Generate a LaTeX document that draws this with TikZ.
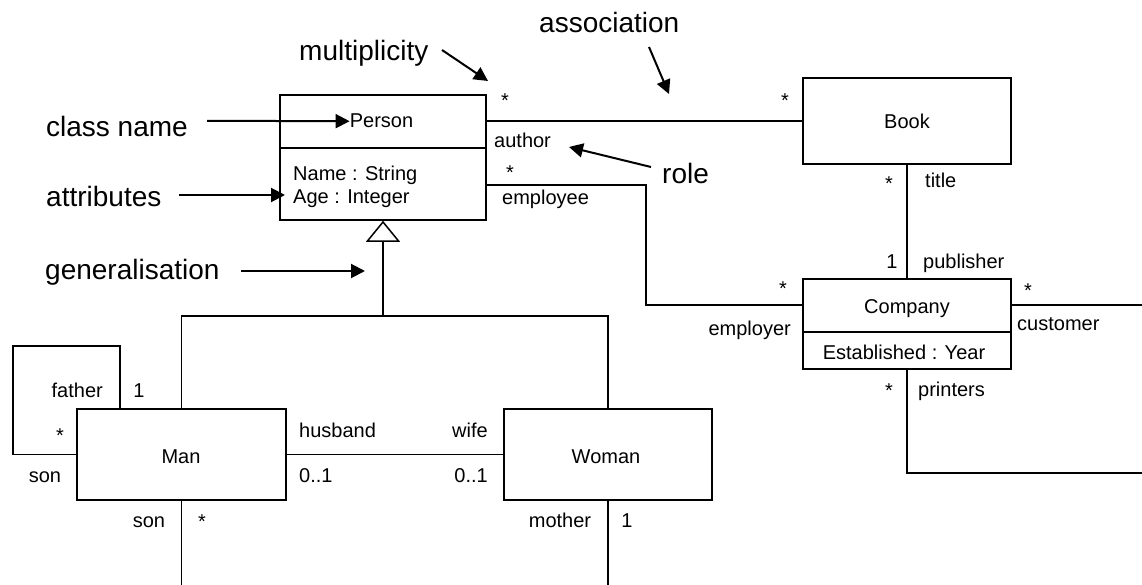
\documentclass[tikz,border=0pt]{standalone}
\usepackage{fontspec}
\setmainfont{Liberation Sans}
\usetikzlibrary{arrows.meta}
\begin{document}
\begin{tikzpicture}[x=1pt,y=-1pt,
  box/.style={draw, line width=1.6pt, rectangle, inner sep=0pt},
  conn/.style={line width=1.5pt},
  ann/.style={line width=2pt, -{Triangle[length=14pt,width=14pt]}},
  lbl/.style={inner sep=0pt, font=\fontsize{20}{23}\selectfont},
  big/.style={inner sep=0pt, font=\fontsize{28}{32}\selectfont},
  gen/.style={conn, -{Triangle[open,length=21pt,width=34pt,line width=1.5pt]}}
]
\useasboundingbox (0,0) rectangle (1142,585);

% ---------- classes ----------
\node[box, minimum width=206pt, minimum height=125pt] (Person) at (383,157.5) {};
\node[box, minimum width=208pt, minimum height=86pt]  (Book)   at (907,121) {};
\node[box, minimum width=208pt, minimum height=90pt]  (Company) at (907,324) {};
\node[box, minimum width=209pt, minimum height=91pt]  (Man)    at (181.5,454.5) {};
\node[box, minimum width=208pt, minimum height=91pt]  (Woman)  at (608,454.5) {};

% compartment dividers
\coordinate (pdiv) at (383,148);
\draw[line width=1.6pt] (pdiv -| Person.west) -- (pdiv -| Person.east);
\coordinate (cdiv) at (907,332);
\draw[line width=1.6pt] (cdiv -| Company.west) -- (cdiv -| Company.east);

% class texts
\node[lbl, anchor=base] (pname) at (381.5,128) {Person};
\node[lbl, anchor=base west] (pattr1) at (293,181) {Name : String};
\node[lbl, anchor=base west] (pattr2) at (293,204) {Age : Integer};
\node[lbl, anchor=base] (bname) at (907,129) {Book};
\node[lbl, anchor=base] (cname) at (907,313) {Company};
\node[lbl, anchor=base] (cattr) at (904,359) {Established : Year};
\node[lbl, anchor=base] (mname) at (181,463) {Man};
\node[lbl, anchor=base] (wname) at (606,463) {Woman};

% ---------- associations ----------
\draw[conn] (Book.west) -- (Book.west -| Person.east);

\coordinate (empBend) at (646,185);
\coordinate (cn) at (907,305);
\draw[conn] (empBend -| Person.east) -- (empBend) |- (cn -| Company.west);

\draw[conn] (Book.south) -- (Company.north);

\coordinate (custEnd) at (1142,305);
\draw[conn] (cn -| Company.east) -- (custEnd);

\coordinate (prBend) at (907,473);
\coordinate (prEnd) at (1142,473);
\draw[conn] (Company.south) -- (prBend) -- (prEnd);

\draw[conn] (Man.east) -- (Woman.west);

\coordinate (loopTL) at (13,346);
\coordinate (loopTR) at (120,346);
\draw[conn] (Man.west) -| (loopTL) -- (loopTR) -- (loopTR |- Man.north);

\coordinate (manEnd) at (181.5,585);
\coordinate (womanEnd) at (608,585);
\draw[conn] (Man.south) -- (manEnd);
\draw[conn] (Woman.south) -- (womanEnd);

% generalisation
\coordinate (gj) at (383,316);
\draw[conn] (Man.north) |- (gj) -| (Woman.north);
\draw[gen] (gj) -- (Person.south);

% ---------- role names and multiplicities ----------
\node[lbl, anchor=base] (m1) at (505,108) {*};
\node[lbl, anchor=base] (m2) at (785,108) {*};
\node[lbl, anchor=base west] (rAuthor) at (494,148) {author};
\node[lbl, anchor=base] (m3) at (510,180) {*};
\node[lbl, anchor=base west] (rEmployee) at (502,205) {employee};
\node[lbl, anchor=base] (m4) at (889,191) {*};
\node[lbl, anchor=base west] (rTitle) at (925,188) {title};
\node[lbl, anchor=base] (m5) at (892,268) {1};
\node[lbl, anchor=base west] (rPublisher) at (923,268) {publisher};
\node[lbl, anchor=base] (m6) at (783,295) {*};
\node[lbl, anchor=base east] (rEmployer) at (791,335) {employer};
\node[lbl, anchor=base] (m7) at (1028,297) {*};
\node[lbl, anchor=base west] (rCustomer) at (1017,330) {customer};
\node[lbl, anchor=base] (m8) at (889,397) {*};
\node[lbl, anchor=base west] (rPrinters) at (918,396) {printers};

\node[lbl, anchor=base west] (rHusband) at (299,437) {husband};
\node[lbl, anchor=base east] (rWife) at (488,437) {wife};
\node[lbl, anchor=base west] (m9) at (299,482) {0..1};
\node[lbl, anchor=base east] (m10) at (488,482) {0..1};

\node[lbl, anchor=base east] (rFather) at (103,397) {father};
\node[lbl, anchor=base] (m11) at (139,397) {1};
\node[lbl, anchor=base] (m12) at (60,442) {*};
\node[lbl, anchor=base] (rSon1) at (45,482) {son};
\node[lbl, anchor=base] (rSon2) at (149,527) {son};
\node[lbl, anchor=base] (m13) at (202,528) {*};
\node[lbl, anchor=base] (rMother) at (560,527) {mother};
\node[lbl, anchor=base] (m14) at (627,527) {1};

% ---------- annotations ----------
\node[big, anchor=base west] (tMult) at (299,61) {multiplicity};
\node[big, anchor=base west] (tAssoc) at (539,33) {association};
\node[big, anchor=base west] (tClass) at (46,137) {class name};
\node[big, anchor=base west] (tAttr) at (46,207) {attributes};
\node[big, anchor=base west] (tGen) at (45,279) {generalisation};
\node[big, anchor=base west] (tRole) at (662,184) {role};

\coordinate (multA) at (442,50);
\coordinate (multB) at (488,81);
\draw[ann] (multA) -- (multB);
\coordinate (assocA) at (649,47);
\coordinate (assocB) at (669,94);
\draw[ann] (assocA) -- (assocB);
\coordinate (classA) at (207,120.8);
\draw[ann] (classA) -- (pname.west);
\coordinate (attA) at (179,195);
\coordinate (attB) at (285,195);
\draw[ann] (attA) -- (attB);
\coordinate (genA) at (241,271);
\coordinate (genB) at (365,271);
\draw[ann] (genA) -- (genB);
\coordinate (roleA) at (651,167);
\coordinate (roleB) at (569,147);
\draw[ann] (roleA) -- (roleB);
\end{tikzpicture}
\end{document}
